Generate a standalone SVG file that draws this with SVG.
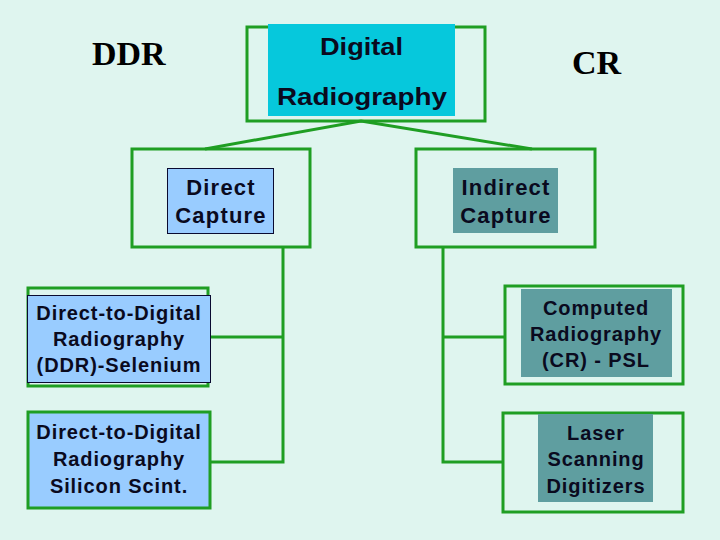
<svg xmlns="http://www.w3.org/2000/svg" width="720" height="540" viewBox="0 0 720 540">
<style>
.g{fill:none;stroke:#1f9e23;stroke-width:3}
.gf{stroke:#1f9e23;stroke-width:3}
.blue{fill:#99ccff}
.teal{fill:#5f9ea0}
.t{font-family:"Liberation Sans",Arial,sans-serif;font-weight:bold;fill:#0a0a1e;text-anchor:middle}
.s20{font-size:20px;letter-spacing:0.9px}
.s22{font-size:22px;letter-spacing:1.2px}
.serif{font-family:"Liberation Serif","Times New Roman",serif;font-weight:bold;font-size:34px;fill:#000}
.ln{fill:none;stroke:#1f9e23;stroke-width:3}
</style>
<rect width="720" height="540" fill="#dff5ef"/>
<text class="serif" x="92" y="65">DDR</text>
<text class="serif" x="572" y="74">CR</text>
<g id="connectors">
<polyline class="ln" points="205,149 361,121 532,149"/>
<polyline class="ln" points="283,248 283,462 210,462"/>
<line class="ln" x1="208" y1="337" x2="283" y2="337"/>
<polyline class="ln" points="443,248 443,462 504,462"/>
<line class="ln" x1="443" y1="337" x2="505" y2="337"/>
</g>
<g id="digital-radiography">
<rect class="g" x="247" y="27" width="238" height="94"/>
<rect x="268" y="24" width="187" height="92" fill="#06c8dc"/>
<text class="t" x="361.5" y="55" font-size="24" textLength="83" lengthAdjust="spacingAndGlyphs">Digital</text>
<text class="t" x="362" y="105" font-size="24" textLength="170" lengthAdjust="spacingAndGlyphs">Radiography</text>
</g>
<g id="direct-capture">
<rect class="g" x="132" y="149" width="178" height="98"/>
<rect x="167.5" y="168.5" width="106" height="65" fill="#99ccff" stroke="#0a0a30" stroke-width="1"/>
<text class="t s22" x="221" y="195">Direct</text>
<text class="t s22" x="221" y="223">Capture</text>
</g>
<g id="indirect-capture">
<rect class="g" x="416" y="149" width="179" height="98"/>
<rect class="teal" x="453" y="168" width="105" height="65"/>
<text class="t s22" x="506" y="195">Indirect</text>
<text class="t s22" x="506" y="223">Capture</text>
</g>
<g id="ddr-selenium">
<rect class="g" x="28" y="288" width="180" height="98"/>
<rect x="27.5" y="295.5" width="183" height="87" fill="#99ccff" stroke="#0a0a30" stroke-width="1"/>
<text class="t s20" x="119" y="320">Direct-to-Digital</text>
<text class="t s20" x="119" y="346">Radiography</text>
<text class="t s20" x="119" y="372">(DDR)-Selenium</text>
</g>
<g id="ddr-silicon">
<rect class="gf blue" x="28" y="412" width="182" height="96"/>
<text class="t s20" x="119" y="439">Direct-to-Digital</text>
<text class="t s20" x="119" y="466">Radiography</text>
<text class="t s20" x="119" y="493">Silicon Scint.</text>
</g>
<g id="cr-psl">
<rect class="g" x="505" y="286" width="178" height="98"/>
<rect class="teal" x="521" y="289" width="151" height="88"/>
<text class="t s20" x="596" y="315">Computed</text>
<text class="t s20" x="596" y="341">Radiography</text>
<text class="t s20" x="596" y="367">(CR) - PSL</text>
</g>
<g id="laser-scanning">
<rect class="g" x="503" y="413" width="180" height="99"/>
<rect class="teal" x="538" y="414" width="115" height="88"/>
<text class="t s20" x="596" y="440">Laser</text>
<text class="t s20" x="596" y="466">Scanning</text>
<text class="t s20" x="596" y="493">Digitizers</text>
</g>
</svg>
